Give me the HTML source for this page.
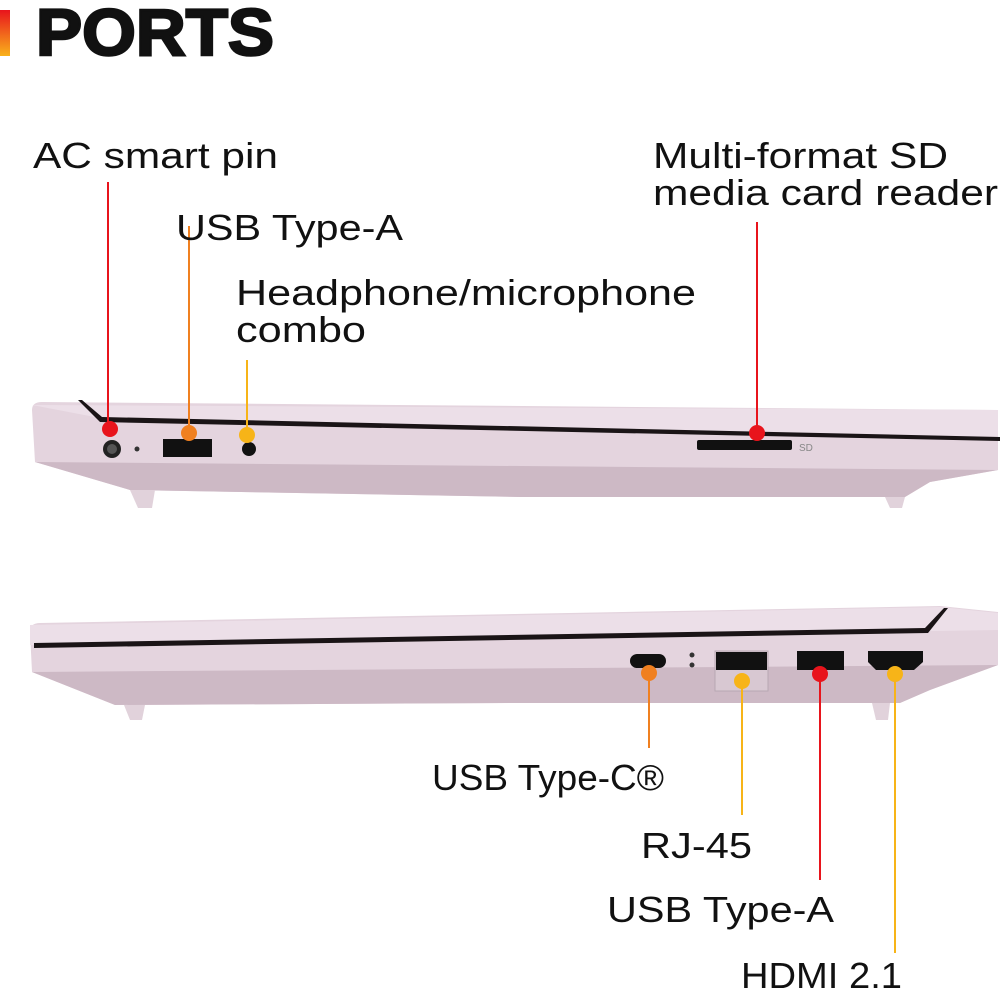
<!DOCTYPE html>
<html><head><meta charset="utf-8"><style>
html,body{margin:0;padding:0;background:#fff;}
svg{display:block}
text{font-family:"Liberation Sans",sans-serif;fill:#111;font-size:36px}
</style></head><body>
<svg width="1000" height="1000" viewBox="0 0 1000 1000" xmlns="http://www.w3.org/2000/svg">
<defs>
<linearGradient id="bar" x1="0" y1="0" x2="0" y2="1"><stop offset="0" stop-color="#e8141c"/><stop offset="1" stop-color="#f9b21b"/></linearGradient>
</defs>
<rect x="0" y="10" width="10" height="46" fill="url(#bar)"/>
<text x="36" y="55" font-weight="bold" textLength="238" lengthAdjust="spacingAndGlyphs" style="font-size:66px;stroke:#111;stroke-width:2.5px">PORTS</text>

<!-- Laptop 1 -->
<path d="M32,410 Q32,402 42,402 L998,410 L998,470 L930,482 L905,497 L520,497 L130,490 L35,462 Z" fill="#e4d4de"/>
<path d="M35,462 L998,470 L930,482 L905,497 L520,497 L130,490 Z" fill="#cdb9c5"/>
<path d="M32,405 L998,410 L998,437 L100,418 Z" fill="#ecdfe8"/>
<path d="M82,400 L102,417 L1000,437 L1000,441 L100,422 L78,400 Z" fill="#1a1416"/>
<path d="M130,490 L155,490 L152,508 L138,508 Z" fill="#e1d2db"/>
<path d="M885,497 L905,497 L902,508 L890,508 Z" fill="#e1d2db"/>
<circle cx="112" cy="449" r="9" fill="#222"/><circle cx="112" cy="449" r="5" fill="#555"/>
<circle cx="137" cy="449" r="2.5" fill="#333"/>
<rect x="163" y="439" width="49" height="18" fill="#111"/>
<circle cx="249" cy="449" r="7" fill="#111"/>
<rect x="697" y="440" width="95" height="10" rx="2" fill="#111"/>
<text x="799" y="451" style="font-size:10px;fill:#888">SD</text>

<line x1="108" y1="182" x2="108" y2="428" stroke="#e8141c" stroke-width="2"/><circle cx="110" cy="429" r="8" fill="#e8141c"/>
<line x1="189" y1="226" x2="189" y2="432" stroke="#f08020" stroke-width="2"/><circle cx="189" cy="433" r="8" fill="#f08020"/>
<line x1="247" y1="360" x2="247" y2="434" stroke="#f7b418" stroke-width="2"/><circle cx="247" cy="435" r="8" fill="#f7b418"/>
<line x1="757" y1="222" x2="757" y2="432" stroke="#e8141c" stroke-width="2"/><circle cx="757" cy="433" r="8" fill="#e8141c"/>

<!-- Laptop 2 -->
<path d="M30,632 Q30,623 40,623 L940,606 L998,612 L998,665 L930,690 L900,703 L520,703 L115,705 L32,672 Z" fill="#e4d4de"/>
<path d="M32,672 L998,665 L930,690 L900,703 L520,703 L115,705 Z" fill="#cdb9c5"/>
<path d="M30,625 L940,607 L998,613 L998,630 L30,645 Z" fill="#ecdfe8"/>
<path d="M34,643 L925,628 L944,608 L948,608 L928,633 L34,648 Z" fill="#1a1416"/>
<path d="M124,705 L145,705 L142,720 L130,720 Z" fill="#e1d2db"/>
<path d="M872,703 L890,703 L888,720 L876,720 Z" fill="#e1d2db"/>
<rect x="630" y="654" width="36" height="14" rx="7" fill="#111"/>
<circle cx="692" cy="655" r="2.5" fill="#333"/><circle cx="692" cy="665" r="2.5" fill="#333"/>
<rect x="715" y="651" width="53" height="40" fill="#d8c8d2" stroke="#b8a8b2"/>
<rect x="716" y="652" width="51" height="18" fill="#111"/>
<rect x="797" y="651" width="47" height="19" fill="#111"/>
<path d="M868,651 L923,651 L923,662 L914,670 L876,670 L868,662 Z" fill="#111"/>

<line x1="649" y1="674" x2="649" y2="748" stroke="#f08020" stroke-width="2"/><circle cx="649" cy="673" r="8" fill="#f08020"/>
<line x1="742" y1="680" x2="742" y2="815" stroke="#f7b418" stroke-width="2"/><circle cx="742" cy="681" r="8" fill="#f7b418"/>
<line x1="820" y1="674" x2="820" y2="880" stroke="#e8141c" stroke-width="2"/><circle cx="820" cy="674" r="8" fill="#e8141c"/>
<line x1="895" y1="674" x2="895" y2="953" stroke="#f7b418" stroke-width="2"/><circle cx="895" cy="674" r="8" fill="#f7b418"/>

<text x="33" y="168" textLength="245" lengthAdjust="spacingAndGlyphs">AC smart pin</text>
<text x="176" y="240" textLength="227" lengthAdjust="spacingAndGlyphs">USB Type-A</text>
<text x="236" y="305" textLength="460" lengthAdjust="spacingAndGlyphs">Headphone/microphone</text>
<text x="236" y="342" textLength="130" lengthAdjust="spacingAndGlyphs">combo</text>
<text x="653" y="168" textLength="295" lengthAdjust="spacingAndGlyphs">Multi-format SD</text>
<text x="653" y="205" textLength="345" lengthAdjust="spacingAndGlyphs">media card reader</text>
<text x="432" y="790" textLength="232" lengthAdjust="spacingAndGlyphs">USB Type-C®</text>
<text x="641" y="858" textLength="111" lengthAdjust="spacingAndGlyphs">RJ-45</text>
<text x="607" y="922" textLength="227" lengthAdjust="spacingAndGlyphs">USB Type-A</text>
<text x="741" y="988" textLength="161" lengthAdjust="spacingAndGlyphs">HDMI 2.1</text>
</svg>
</body></html>
